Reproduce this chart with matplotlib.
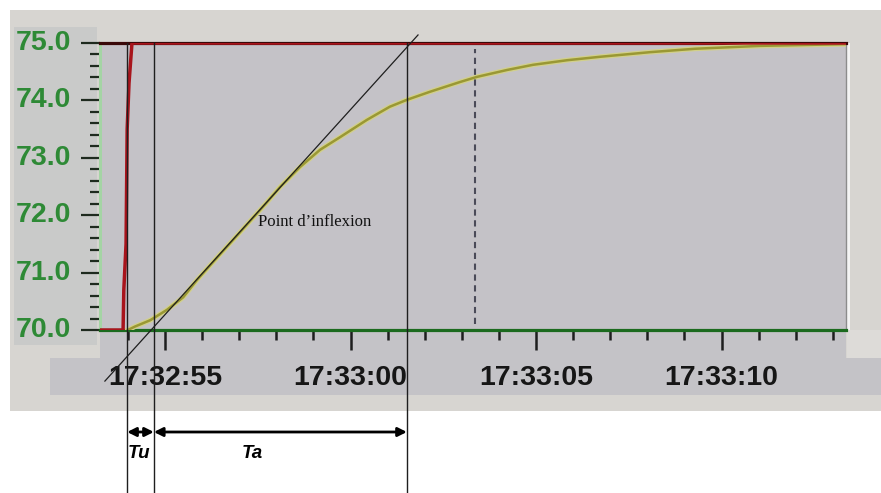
import matplotlib
matplotlib.use("Agg")
import matplotlib.pyplot as plt
import matplotlib.patheffects as pe
from matplotlib.patches import Rectangle
from matplotlib.transforms import blended_transform_factory
from matplotlib.ticker import FixedLocator, FixedFormatter

# ---------------- data ----------------
# time in seconds relative to 17:32:55
process_t = [-1.00, -0.81, -0.40, 0.05, 0.49, 0.86, 1.50, 2.20, 2.70, 3.10, 3.64,
             4.18, 4.72, 5.44, 6.06, 6.52, 7.14, 7.95, 8.41, 9.22, 9.92, 10.84,
             11.73, 13.07, 14.29, 16.04, 18.36]
process_v = [70.00, 70.06, 70.17, 70.35, 70.57, 70.87, 71.33, 71.83, 72.19, 72.49, 72.84,
             73.14, 73.36, 73.66, 73.89, 74.01, 74.15, 74.32, 74.41, 74.53, 74.62, 74.70,
             74.76, 74.84, 74.90, 74.95, 74.98]

setpoint_t = [-1.75, -1.13, -1.11, -1.05, -1.02, -0.97, -0.89, 18.36]
setpoint_v = [70.0, 70.0, 70.7, 71.5, 73.5, 74.3, 75.0, 75.0]

tangent_t = [-1.62, 6.82]
tangent_v = [69.11, 75.14]

marker_t = [-1.02, -0.30, 6.52]      # Tu start, Tu end / Ta start, Ta end
cursor_t = 8.36

x_major = [0, 5, 10, 15]
x_labels = ["17:32:55", "17:33:00", "17:33:05", "17:33:10"]
x_minor = list(range(-1, 19))
y_major = [70, 71, 72, 73, 74, 75]
y_labels = ["70.0", "71.0", "72.0", "73.0", "74.0", "75.0"]
y_minor = [70 + 0.2 * i for i in range(26)]

span_labels = ["Tu", "Ta"]
span_label_t = [-0.71, 2.36]
annot_text = "Point d\u2019inflexion"
annot_pos = (2.51, 71.88)

# ---------------- figure ----------------
W, H = 881, 493
fig = plt.figure(figsize=(W / 100, H / 100), dpi=100, facecolor="white")


def rect(x0, y0, x1, y1, color, z=0):
    fig.add_artist(Rectangle((x0 / W, 1 - y1 / H), (x1 - x0) / W, (y1 - y0) / H,
                             transform=fig.transFigure, color=color, zorder=z, lw=0))


rect(10, 10, 881, 411, "#d7d5d1")
rect(14, 27, 97, 345, "#c9cac9")
rect(100, 330, 846, 358, "#c4c3c7")
rect(50, 358, 881, 395, "#c4c3c7")
rect(847, 330, 881, 358, "#dddbd8")
rect(847, 43, 850, 330, "#f4f4f4")

ax_l, ax_r, ax_t, ax_b = 100, 846, 43, 330
ax = fig.add_axes([ax_l / W, 1 - ax_b / H, (ax_r - ax_l) / W, (ax_b - ax_t) / H])
ax.set_facecolor("#c4c2c7")
ax.set_zorder(1)

xmin = (ax_l - 165) / 37.1
xmax = (ax_r - 165) / 37.1

# process value curve
ax.plot(process_t, process_v, color="#9a9834", lw=1.8, zorder=3,
        path_effects=[pe.Stroke(linewidth=3.6, foreground="#d2d08a"), pe.Normal()])
# setpoint
ax.plot(setpoint_t, setpoint_v, color="#a8141c", lw=2.5, zorder=4)
# tangent
ax.plot(tangent_t, tangent_v, color="#1e1e1e", lw=0.9, zorder=5, clip_on=False)
# dashed cursor
ax.plot([cursor_t, cursor_t], [70.1, 74.9], color="#4a4a58", lw=1.5,
        linestyle=(0, (3, 2.2)), zorder=3)

trans = blended_transform_factory(ax.transData, fig.transFigure)
for t in marker_t:
    ax.plot([t, t], [0.0, 1 - ax_t / H], transform=trans, color="#1e1e1e",
            lw=1.0, clip_on=False, zorder=6)

ya = 1 - 432 / H
ax.annotate("", xy=(marker_t[1], ya), xytext=(marker_t[0], ya), xycoords=trans,
            textcoords=trans, annotation_clip=False,
            arrowprops=dict(arrowstyle="<|-|>", color="black", lw=2.0,
                            shrinkA=0, shrinkB=0, mutation_scale=13))
ax.annotate("", xy=(marker_t[2], ya), xytext=(marker_t[1], ya), xycoords=trans,
            textcoords=trans, annotation_clip=False,
            arrowprops=dict(arrowstyle="<|-|>", color="black", lw=2.0,
                            shrinkA=0, shrinkB=0, mutation_scale=13))
for lab, t in zip(span_labels, span_label_t):
    ax.text(t, 1 - 454 / H, lab, transform=trans, ha="center", va="center",
            fontsize=13.5, fontweight="bold", fontstyle="italic",
            family=["Liberation Sans", "DejaVu Sans"], color="black", clip_on=False)

ax.text(annot_pos[0], annot_pos[1], annot_text, ha="left", va="center",
        fontsize=12, family=["Liberation Serif", "DejaVu Serif"], color="#111111",
        zorder=7)

ax.set_xlim(xmin, xmax)
ax.set_ylim(70, 75)

ax.xaxis.set_major_locator(FixedLocator(x_major))
ax.xaxis.set_major_formatter(FixedFormatter(x_labels))
ax.xaxis.set_minor_locator(FixedLocator(x_minor))
ax.yaxis.set_major_locator(FixedLocator(y_major))
ax.yaxis.set_major_formatter(FixedFormatter(y_labels))
ax.yaxis.set_minor_locator(FixedLocator(y_minor))

ax.tick_params(axis="x", which="major", direction="out", length=14.5, width=1.8,
               color="#1e1e1e", pad=10.5, labelsize=20.5, labelcolor="#161616")
ax.tick_params(axis="x", which="minor", direction="out", length=7, width=1.8,
               color="#1e1e1e")
ax.tick_params(axis="y", which="major", direction="out", length=14, width=1.6,
               color="#1e2a1e", pad=7, labelsize=20.5, labelcolor="#2e8a36")
ax.tick_params(axis="y", which="minor", direction="out", length=7, width=1.6,
               color="#1e2a1e")
for lab in ax.get_xticklabels() + ax.get_yticklabels():
    lab.set_fontweight("bold")
    lab.set_family(["Liberation Sans", "DejaVu Sans"])
for lab in ax.get_yticklabels():
    lab.set_verticalalignment("center")

ax.spines["bottom"].set_color("#1b6a1e")
ax.spines["bottom"].set_linewidth(2.3)
ax.spines["top"].set_color("#3a0808")
ax.spines["top"].set_linewidth(2.3)
ax.spines["left"].set_color("#a4d4a4")
ax.spines["left"].set_linewidth(2.2)
ax.spines["right"].set_color("#8c8c8c")
ax.spines["right"].set_linewidth(1.0)
for s in ax.spines.values():
    s.set_zorder(2.5)

fig.savefig("out.png", dpi=100, facecolor="white")
